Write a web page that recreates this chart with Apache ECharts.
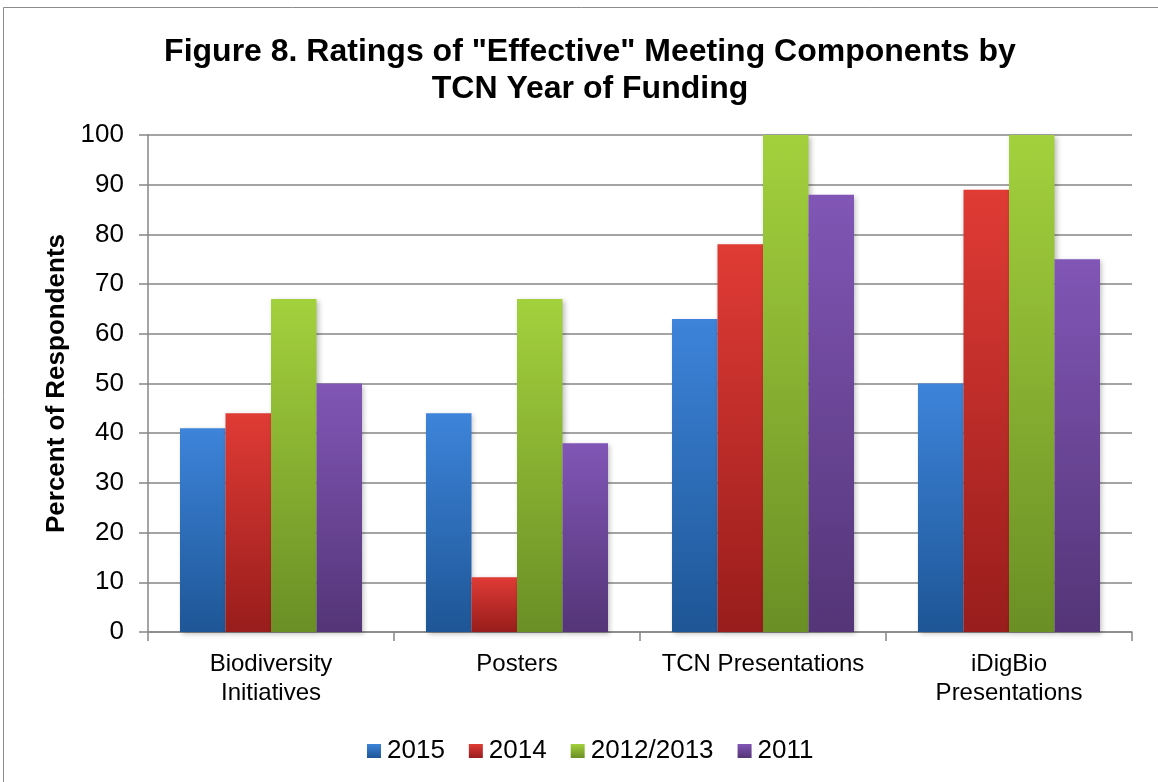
<!DOCTYPE html>
<html>
<head>
<meta charset="utf-8">
<script src="https://cdn.jsdelivr.net/npm/echarts@6/dist/echarts.min.js"></script>
<style>
html, body { margin: 0; padding: 0; background: #fff; }
#chart { width: 1158px; height: 782px; }
</style>
</head>
<body>
<div id="chart"></div>
<script>
var categories = ["Biodiversity\nInitiatives", "Posters", "TCN Presentations", "iDigBio\nPresentations"];
var seriesNames = ["2015", "2014", "2012/2013", "2011"];
var v2015 = [41, 44, 63, 50];
var v2014 = [44, 11, 78, 89];
var v2012 = [67, 67, 100, 100];
var v2011 = [50, 38, 88, 75];
var yTicks = [0, 10, 20, 30, 40, 50, 60, 70, 80, 90, 100];

var seriesValues = [v2015, v2014, v2012, v2011];
var colors = [
	["#3d84da", "#1e5696"],
	["#e03b35", "#981d1c"],
	["#a3d13d", "#6a8f25"],
	["#8156b6", "#543577"],
];

function grad(c) {
	return new echarts.graphic.LinearGradient(0, 0, 0, 1, [
		{ offset: 0, color: c[0] },
		{ offset: 1, color: c[1] },
	]);
}

var chart = echarts.init(document.getElementById("chart"));
var option = {
	animation: false,
	backgroundColor: "#fff",
	textStyle: { fontFamily: "Liberation Sans, Arial, sans-serif" },
	graphic: [
		{
			type: "rect",
			shape: { x: 3.5, y: 7.5, width: 1160, height: 800 },
			style: { fill: "none", stroke: "#8c8c8c", lineWidth: 1 },
			silent: true,
		},
	],
	title: {
		text: "Figure 8. Ratings of \"Effective\" Meeting Components by\nTCN Year of Funding",
		left: 585,
		top: 29,
		textAlign: "center",
		textStyle: {
			fontSize: 32,
			fontWeight: "bold",
			color: "#000",
			lineHeight: 37,
			fontFamily: "Liberation Sans, Arial, sans-serif",
		},
	},
	legend: {
		data: seriesNames,
		top: 733,
		left: 362,
		itemWidth: 14,
		itemHeight: 14,
		itemGap: 24,
		icon: "rect",
		textStyle: { fontSize: 26, color: "#000", padding: [0, 0, 0, 1] },
	},
	grid: { left: 148, right: 26, top: 135, bottom: 150 },
	xAxis: {
		type: "category",
		data: categories,
		axisLine: { lineStyle: { color: "#868686", width: 1.5 } },
		axisTick: { show: true, interval: 0, length: 9, lineStyle: { color: "#868686", width: 1.5 } },
		axisLabel: { interval: 0, fontSize: 24, color: "#000", margin: 18, lineHeight: 29 },
	},
	yAxis: {
		type: "value",
		min: 0,
		max: 100,
		interval: 10,
		name: "Percent of Respondents",
		nameLocation: "middle",
		nameGap: 73,
		nameRotate: 90,
		nameTextStyle: { fontSize: 26, fontWeight: "bold", color: "#000" },
		axisLine: { show: true, lineStyle: { color: "#868686", width: 1.5 } },
		axisTick: { show: true, length: 9, lineStyle: { color: "#868686", width: 1.5 } },
		axisLabel: {
			fontSize: 26,
			color: "#000",
			margin: 24,
			formatter: function (v) {
				return yTicks.indexOf(v) >= 0 ? String(v) : "";
			},
		},
		splitLine: { lineStyle: { color: "#868686", width: 1.5 } },
	},
	series: seriesNames.map(function (name, i) {
		return {
			name: name,
			type: "bar",
			data: seriesValues[i],
			barGap: "0%",
			barCategoryGap: "26%",
			itemStyle: {
				color: grad(colors[i]),
				shadowColor: "rgba(0,0,0,0.25)",
				shadowBlur: 5,
				shadowOffsetX: 2,
				shadowOffsetY: 2,
			},
		};
	}),
};
chart.setOption(option);
</script>
</body>
</html>
